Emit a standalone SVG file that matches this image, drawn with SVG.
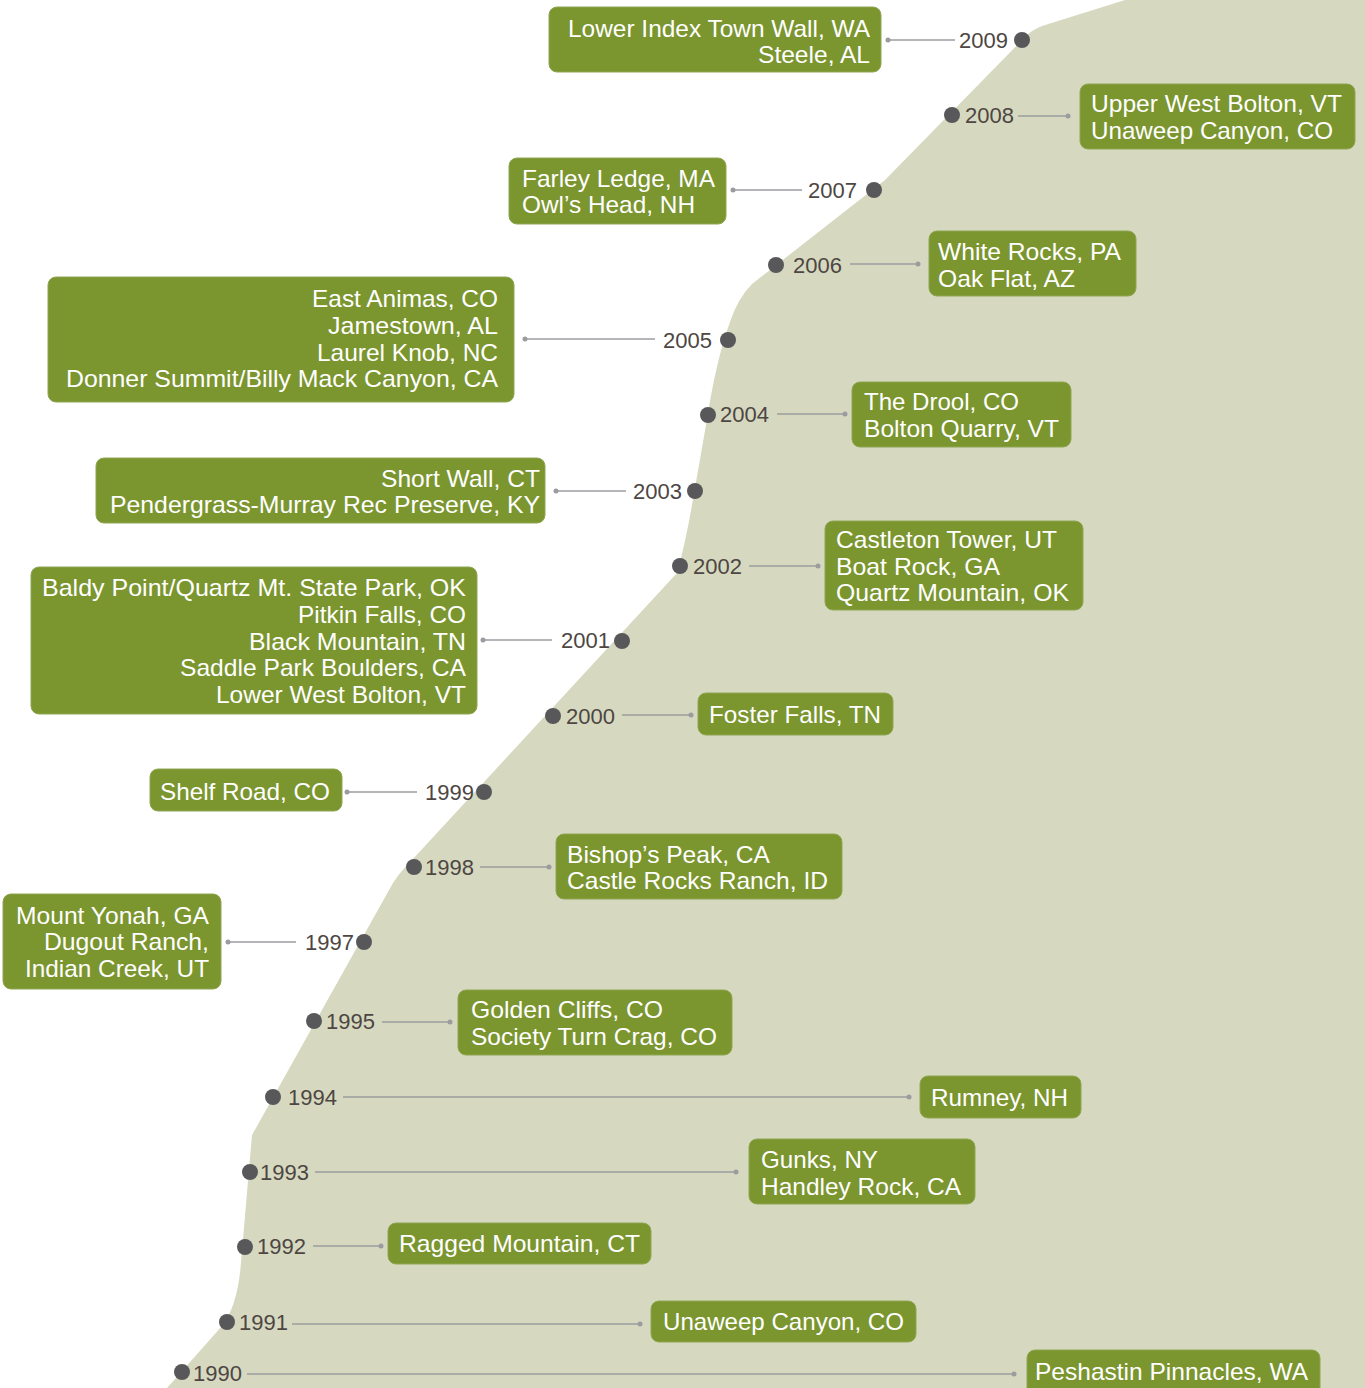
<svg xmlns="http://www.w3.org/2000/svg" width="1365" height="1388" viewBox="0 0 1365 1388">
<style>
.bg{fill:#d6d9bf}
.box{fill:#7b952f;stroke:#8fa653;stroke-width:1}
.bt{fill:#ffffff;font-family:"Liberation Sans",Arial,Helvetica,sans-serif;font-size:24px}
.r{text-anchor:end}
.yr{fill:#4d4643;font-family:"Liberation Sans",Arial,Helvetica,sans-serif;font-size:22px}
.dot{fill:#58585b}
.con line{stroke:#9b9ca0;stroke-width:1.5}
.con circle{fill:#9b9ca0}
</style>
<rect width="1365" height="1388" fill="#ffffff"/>
<path class="bg" d="M1125,0 H1365 V1388 H167 L222,1326 Q238,1305 241,1262 L252,1135 L393,883 Q400,872 412,860 L677,573 Q685,545 692,505 L706,425 Q716,360 730,322 Q738,298 752,284 L885,180 L1026,36 Q1032,30 1042,26 L1125,0 Z"/>
<g id="connectors" class="con">
<line x1="888" y1="40" x2="955" y2="40"/><circle cx="888" cy="40" r="2.5"/>
<line x1="1018" y1="116" x2="1068" y2="116"/><circle cx="1068" cy="116" r="2.5"/>
<line x1="733" y1="190" x2="802" y2="190"/><circle cx="733" cy="190" r="2.5"/>
<line x1="850" y1="264" x2="918" y2="264"/><circle cx="918" cy="264" r="2.5"/>
<line x1="525" y1="339" x2="655" y2="339"/><circle cx="525" cy="339" r="2.5"/>
<line x1="777" y1="414" x2="845" y2="414"/><circle cx="845" cy="414" r="2.5"/>
<line x1="556" y1="491" x2="626" y2="491"/><circle cx="556" cy="491" r="2.5"/>
<line x1="749" y1="566" x2="818" y2="566"/><circle cx="818" cy="566" r="2.5"/>
<line x1="483" y1="640" x2="552" y2="640"/><circle cx="483" cy="640" r="2.5"/>
<line x1="622" y1="715" x2="691" y2="715"/><circle cx="691" cy="715" r="2.5"/>
<line x1="347" y1="792" x2="417" y2="792"/><circle cx="347" cy="792" r="2.5"/>
<line x1="480" y1="867" x2="549" y2="867"/><circle cx="549" cy="867" r="2.5"/>
<line x1="228" y1="942" x2="296" y2="942"/><circle cx="228" cy="942" r="2.5"/>
<line x1="382" y1="1022" x2="450" y2="1022"/><circle cx="450" cy="1022" r="2.5"/>
<line x1="343" y1="1097" x2="909" y2="1097"/><circle cx="909" cy="1097" r="2.5"/>
<line x1="315" y1="1172" x2="736" y2="1172"/><circle cx="736" cy="1172" r="2.5"/>
<line x1="313" y1="1246" x2="381" y2="1246"/><circle cx="381" cy="1246" r="2.5"/>
<line x1="292" y1="1324" x2="640" y2="1324"/><circle cx="640" cy="1324" r="2.5"/>
<line x1="247" y1="1374" x2="1014" y2="1374"/><circle cx="1014" cy="1374" r="2.5"/>
</g>
<g id="y2009">
<circle class="dot" cx="1022" cy="40" r="8"/><text class="yr" x="959" y="48">2009</text>
<rect class="box" x="549" y="7" width="332" height="65" rx="8"/>
<text class="bt r" x="870" y="37" textLength="302" lengthAdjust="spacingAndGlyphs">Lower Index Town Wall, WA</text>
<text class="bt r" x="870" y="63" textLength="112" lengthAdjust="spacingAndGlyphs">Steele, AL</text>
</g>
<g id="y2008">
<circle class="dot" cx="952" cy="115" r="8"/><text class="yr" x="965" y="123">2008</text>
<rect class="box" x="1080" y="84" width="275" height="65" rx="8"/>
<text class="bt" x="1091" y="112" textLength="251" lengthAdjust="spacingAndGlyphs">Upper West Bolton, VT</text>
<text class="bt" x="1091" y="139" textLength="242" lengthAdjust="spacingAndGlyphs">Unaweep Canyon, CO</text>
</g>
<g id="y2007">
<circle class="dot" cx="874" cy="190" r="8"/><text class="yr" x="808" y="198">2007</text>
<rect class="box" x="509" y="158" width="217" height="66" rx="8"/>
<text class="bt" x="522" y="187" textLength="193" lengthAdjust="spacingAndGlyphs">Farley Ledge, MA</text>
<text class="bt" x="522" y="213" textLength="173" lengthAdjust="spacingAndGlyphs">Owl’s Head, NH</text>
</g>
<g id="y2006">
<circle class="dot" cx="776" cy="265" r="8"/><text class="yr" x="793" y="273">2006</text>
<rect class="box" x="929" y="231" width="207" height="65" rx="8"/>
<text class="bt" x="938" y="260" textLength="183" lengthAdjust="spacingAndGlyphs">White Rocks, PA</text>
<text class="bt" x="938" y="287" textLength="137" lengthAdjust="spacingAndGlyphs">Oak Flat, AZ</text>
</g>
<g id="y2005">
<circle class="dot" cx="728" cy="340" r="8"/><text class="yr" x="663" y="348">2005</text>
<rect class="box" x="48" y="277" width="466" height="125" rx="8"/>
<text class="bt r" x="498" y="307" textLength="186" lengthAdjust="spacingAndGlyphs">East Animas, CO</text>
<text class="bt r" x="498" y="334" textLength="170" lengthAdjust="spacingAndGlyphs">Jamestown, AL</text>
<text class="bt r" x="498" y="361" textLength="181" lengthAdjust="spacingAndGlyphs">Laurel Knob, NC</text>
<text class="bt r" x="498" y="387" textLength="432" lengthAdjust="spacingAndGlyphs">Donner Summit/Billy Mack Canyon, CA</text>
</g>
<g id="y2004">
<circle class="dot" cx="708" cy="415" r="8"/><text class="yr" x="720" y="422">2004</text>
<rect class="box" x="852" y="382" width="219" height="65" rx="8"/>
<text class="bt" x="864" y="410" textLength="155" lengthAdjust="spacingAndGlyphs">The Drool, CO</text>
<text class="bt" x="864" y="437" textLength="195" lengthAdjust="spacingAndGlyphs">Bolton Quarry, VT</text>
</g>
<g id="y2003">
<circle class="dot" cx="695" cy="491" r="8"/><text class="yr" x="633" y="499">2003</text>
<rect class="box" x="96" y="458" width="449" height="65" rx="8"/>
<text class="bt r" x="540" y="487" textLength="159" lengthAdjust="spacingAndGlyphs">Short Wall, CT</text>
<text class="bt r" x="540" y="513" textLength="430" lengthAdjust="spacingAndGlyphs">Pendergrass-Murray Rec Preserve, KY</text>
</g>
<g id="y2002">
<circle class="dot" cx="680" cy="566" r="8"/><text class="yr" x="693" y="574">2002</text>
<rect class="box" x="825" y="521" width="258" height="89" rx="8"/>
<text class="bt" x="836" y="548" textLength="221" lengthAdjust="spacingAndGlyphs">Castleton Tower, UT</text>
<text class="bt" x="836" y="575" textLength="164" lengthAdjust="spacingAndGlyphs">Boat Rock, GA</text>
<text class="bt" x="836" y="601" textLength="233" lengthAdjust="spacingAndGlyphs">Quartz Mountain, OK</text>
</g>
<g id="y2001">
<circle class="dot" cx="622" cy="641" r="8"/><text class="yr" x="561" y="648">2001</text>
<rect class="box" x="31" y="567" width="446" height="147" rx="8"/>
<text class="bt r" x="466" y="596" textLength="424" lengthAdjust="spacingAndGlyphs">Baldy Point/Quartz Mt. State Park, OK</text>
<text class="bt r" x="466" y="623" textLength="168" lengthAdjust="spacingAndGlyphs">Pitkin Falls, CO</text>
<text class="bt r" x="466" y="650" textLength="217" lengthAdjust="spacingAndGlyphs">Black Mountain, TN</text>
<text class="bt r" x="466" y="676" textLength="286" lengthAdjust="spacingAndGlyphs">Saddle Park Boulders, CA</text>
<text class="bt r" x="466" y="703" textLength="250" lengthAdjust="spacingAndGlyphs">Lower West Bolton, VT</text>
</g>
<g id="y2000">
<circle class="dot" cx="553" cy="716" r="8"/><text class="yr" x="566" y="724">2000</text>
<rect class="box" x="698" y="693" width="195" height="42" rx="8"/>
<text class="bt" x="709" y="723" textLength="172" lengthAdjust="spacingAndGlyphs">Foster Falls, TN</text>
</g>
<g id="y1999">
<circle class="dot" cx="484" cy="792" r="8"/><text class="yr" x="425" y="800">1999</text>
<rect class="box" x="150" y="769" width="192" height="42" rx="8"/>
<text class="bt r" x="330" y="800" textLength="170" lengthAdjust="spacingAndGlyphs">Shelf Road, CO</text>
</g>
<g id="y1998">
<circle class="dot" cx="414" cy="867" r="8"/><text class="yr" x="425" y="875">1998</text>
<rect class="box" x="556" y="834" width="286" height="65" rx="8"/>
<text class="bt" x="567" y="863" textLength="203" lengthAdjust="spacingAndGlyphs">Bishop’s Peak, CA</text>
<text class="bt" x="567" y="889" textLength="261" lengthAdjust="spacingAndGlyphs">Castle Rocks Ranch, ID</text>
</g>
<g id="y1997">
<circle class="dot" cx="364" cy="942" r="8"/><text class="yr" x="305" y="950">1997</text>
<rect class="box" x="3" y="894" width="218" height="95" rx="8"/>
<text class="bt r" x="209" y="924" textLength="193" lengthAdjust="spacingAndGlyphs">Mount Yonah, GA</text>
<text class="bt r" x="209" y="950" textLength="165" lengthAdjust="spacingAndGlyphs">Dugout Ranch,</text>
<text class="bt r" x="209" y="977" textLength="184" lengthAdjust="spacingAndGlyphs">Indian Creek, UT</text>
</g>
<g id="y1995">
<circle class="dot" cx="314" cy="1021" r="8"/><text class="yr" x="326" y="1029">1995</text>
<rect class="box" x="458" y="990" width="274" height="65" rx="8"/>
<text class="bt" x="471" y="1018" textLength="192" lengthAdjust="spacingAndGlyphs">Golden Cliffs, CO</text>
<text class="bt" x="471" y="1045" textLength="246" lengthAdjust="spacingAndGlyphs">Society Turn Crag, CO</text>
</g>
<g id="y1994">
<circle class="dot" cx="273" cy="1097" r="8"/><text class="yr" x="288" y="1105">1994</text>
<rect class="box" x="920" y="1076" width="161" height="42" rx="8"/>
<text class="bt" x="931" y="1106" textLength="137" lengthAdjust="spacingAndGlyphs">Rumney, NH</text>
</g>
<g id="y1993">
<circle class="dot" cx="250" cy="1172" r="8"/><text class="yr" x="260" y="1180">1993</text>
<rect class="box" x="749" y="1139" width="226" height="65" rx="8"/>
<text class="bt" x="761" y="1168" textLength="117" lengthAdjust="spacingAndGlyphs">Gunks, NY</text>
<text class="bt" x="761" y="1195" textLength="200" lengthAdjust="spacingAndGlyphs">Handley Rock, CA</text>
</g>
<g id="y1992">
<circle class="dot" cx="245" cy="1247" r="8"/><text class="yr" x="257" y="1254">1992</text>
<rect class="box" x="388" y="1223" width="263" height="41" rx="8"/>
<text class="bt" x="399" y="1252" textLength="241" lengthAdjust="spacingAndGlyphs">Ragged Mountain, CT</text>
</g>
<g id="y1991">
<circle class="dot" cx="227" cy="1322" r="8"/><text class="yr" x="239" y="1330">1991</text>
<rect class="box" x="651" y="1301" width="265" height="41" rx="8"/>
<text class="bt" x="663" y="1330" textLength="241" lengthAdjust="spacingAndGlyphs">Unaweep Canyon, CO</text>
</g>
<g id="y1990">
<circle class="dot" cx="182" cy="1372" r="8"/><text class="yr" x="193" y="1381">1990</text>
<rect class="box" x="1027" y="1350" width="293" height="46" rx="8"/>
<text class="bt" x="1035" y="1380" textLength="273" lengthAdjust="spacingAndGlyphs">Peshastin Pinnacles, WA</text>
</g>
</svg>
